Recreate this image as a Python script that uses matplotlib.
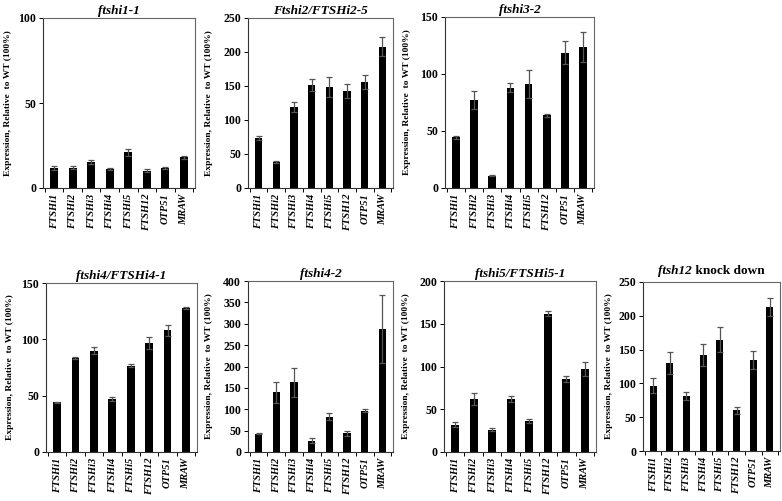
import matplotlib
matplotlib.use("Agg")
import matplotlib.pyplot as plt
import numpy as np

plt.rcParams['font.family'] = ['Liberation Serif', 'DejaVu Serif']
plt.rcParams['font.weight'] = 'bold'
plt.rcParams['axes.titleweight'] = 'bold'
plt.rcParams['axes.labelweight'] = 'bold'

genes = ['FTSHi1', 'FTSHi2', 'FTSHi3', 'FTSHi4', 'FTSHi5', 'FTSH12', 'OTP51', 'MRAW']

# one entry per panel: title, y max, tick step, means, error bars
titles = ['ftshi1-1', 'Ftshi2/FTSHi2-5', 'ftshi3-2',
          'ftshi4/FTSHi4-1', 'ftshi4-2', 'ftshi5/FTSHi5-1', 'ftsh12']
ymax = [100, 250, 150, 150, 400, 200, 250]
ystep = [50, 50, 50, 50, 50, 50, 50]

vals_1 = [11.8, 12, 15.3, 11.2, 21, 10.2, 11.6, 18]
errs_1 = [1.3, 1, 1, 0.8, 2, 0.8, 0.5, 1]
vals_2 = [73, 37.7, 119, 151, 148.5, 143, 156, 208]
errs_2 = [3, 1.5, 7, 9, 14, 10, 10, 14]
vals_3 = [44.3, 77.4, 10.7, 87.8, 91.3, 63.8, 118.8, 123.8]
errs_3 = [1, 8, 0.3, 4, 12, 1.5, 10, 13]
vals_4 = [44.2, 83.5, 90, 46.9, 76.7, 96.5, 108, 127.7]
errs_4 = [0.5, 1, 3, 1.5, 1.5, 5.3, 5, 1]
vals_5 = [43, 139.5, 163, 26, 83, 43.4, 97, 288]
errs_5 = [1, 25, 34, 6, 8, 6, 3, 80]
vals_6 = [32, 62, 26, 62, 36, 161.5, 85.6, 97]
errs_6 = [3, 7, 2, 4, 2.5, 3, 3.5, 8.5]
vals_7 = [96.7, 130, 81.8, 142, 164.7, 60, 135, 213]
errs_7 = [11, 16, 6, 16, 18, 5, 13, 14]

values = [vals_1, vals_2, vals_3, vals_4, vals_5, vals_6, vals_7]
errors = [errs_1, errs_2, errs_3, errs_4, errs_5, errs_6, errs_7]

# axes boxes in pixels: left, right, top, bottom ; y-label x position
boxes = [(43, 195, 18, 188), (248, 393, 18, 188), (445, 594, 17, 188),
         (46, 197, 283, 452), (248, 393, 281, 452), (444, 596, 281, 452),
         (643, 780, 282, 451)]
label_x = [12, 213, 411, 14, 213, 410, 613]

W, H = 782, 501
fig = plt.figure(figsize=(W / 100, H / 100), dpi=100)

x = np.arange(len(genes))
for i in range(7):
    l, r, t, b = boxes[i]
    ax = fig.add_axes([l / W, 1 - b / H, (r - l) / W, (b - t) / H])
    ax.bar(x, values[i], 0.42, color='black', zorder=2)
    ax.errorbar(x, values[i], yerr=errors[i], fmt='none', ecolor='#555555',
                elinewidth=0.9, capsize=2.2, capthick=0.9, zorder=3)
    ax.set_xlim(-0.6, 7.6)
    ax.set_ylim(0, ymax[i])
    ax.set_yticks(np.arange(0, ymax[i] + 1, ystep[i]))
    ax.set_xticks(x)
    ax.set_xticklabels(genes, rotation=90, fontstyle='italic', fontsize=7.5,
                       fontweight='bold')
    ax.set_xticks(np.arange(-0.5, 8, 1), minor=True)
    ax.tick_params(axis='x', which='major', length=0, pad=4)
    ax.tick_params(axis='x', which='minor', length=3, direction='out', width=0.7)
    ax.tick_params(axis='y', labelsize=8.5, length=3, width=0.7, pad=2)
    for lab in ax.get_yticklabels():
        lab.set_fontweight('bold')
    for s in ax.spines.values():
        s.set_linewidth(0.8)
        s.set_color('#333333')
    ax.spines['right'].set_color('#666666')
    ax.spines['top'].set_color('#666666')

    ax.set_ylabel('Expression, Relative  to WT (100%)', fontsize=6.8, fontweight='bold')
    ax.yaxis.set_label_coords((label_x[i] - l) / (r - l), 0.5)

    if i == 6:
        # mixed italic / upright title, centred over the axes
        t1 = ax.text(0.5, 1.03, titles[i], transform=ax.transAxes, fontsize=9.5,
                     fontstyle='italic', fontweight='bold', ha='left', va='bottom')
        t2 = ax.annotate(' knock down', xy=(1, 0), xycoords=t1, fontsize=9.5,
                         fontweight='bold', ha='left', va='bottom')
        fig.canvas.draw()
        r1 = t1.get_window_extent()
        r2 = t2.get_window_extent()
        total = r2.x1 - r1.x0
        axbox = ax.get_window_extent()
        x0 = (axbox.x0 + axbox.x1) / 2 - total / 2
        t1.set_x((x0 - axbox.x0) / axbox.width)
    else:
        ax.set_title(titles[i], fontsize=9.5, fontstyle='italic', fontweight='bold', pad=3)

fig.savefig('out.png', dpi=100)
